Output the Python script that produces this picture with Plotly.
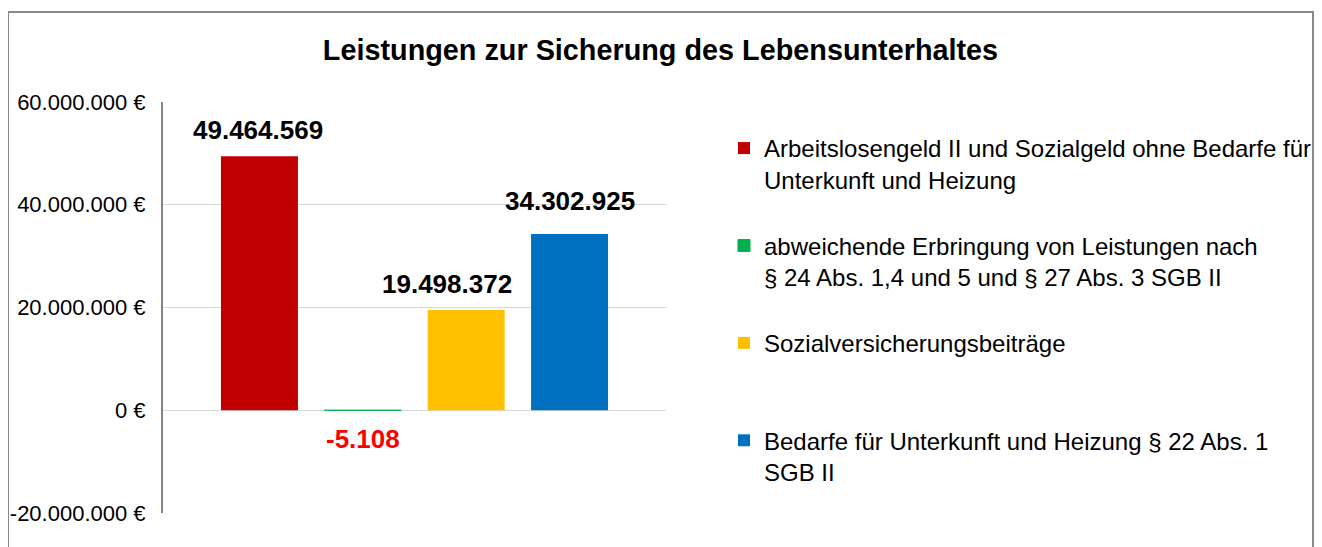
import plotly.graph_objects as go

# ---------------- data ----------------
category = ["Leistungen"]
series_names = [
    "Arbeitslosengeld II und Sozialgeld ohne Bedarfe für<br>Unterkunft und Heizung",
    "abweichende Erbringung von Leistungen nach<br>§ 24 Abs. 1,4 und 5 und § 27 Abs. 3 SGB II",
    "Sozialversicherungsbeiträge<br>\u00a0",
    "Bedarfe für Unterkunft und Heizung § 22 Abs. 1<br>SGB II",
]
values = [49464569, -5108, 19498372, 34302925]
tick_values = [-20000000, 0, 20000000, 40000000, 60000000]
title_text = "Leistungen zur Sicherung des Lebensunterhaltes"

# ---------------- style ----------------
colors = ["#C00000", "#00B050", "#FFC000", "#0070C0"]
label_colors = ["#000000", "#FF0000", "#000000", "#000000"]
label_dx = [-1, 0, -19, 0]      # pixel nudges of the data labels
label_dy = [26, -29, 26, 33]
FONT = "Liberation Sans, Arial, sans-serif"

W, H = 1322, 547
OFF = 8  # page body margin of the browser; layout is given in screen pixels


def f(v):
    """screen pixel -> figure pixel"""
    return v - OFF


PLOT_L, PLOT_R, PLOT_T, PLOT_B = 163, 666, 102, 513.5   # screen pixels
M = dict(l=f(PLOT_L), r=W - f(PLOT_R), t=f(PLOT_T), b=H - f(PLOT_B), pad=0)
PW = W - M["l"] - M["r"]
PH = H - M["t"] - M["b"]
BARGAP = 0.178
BARGROUPGAP = 0.255


def px_x(x):
    return (f(x) - M["l"]) / PW


def px_y(y):
    return (H - M["b"] - f(y)) / PH


def fmt(v):
    return f"{v:,}".replace(",", ".")


def fmt_tick(v):
    return fmt(int(v)) + " €"


fig = go.Figure()
for i, (name, v) in enumerate(zip(series_names, values)):
    fig.add_trace(go.Bar(
        x=category, y=[v], name=name,
        marker=dict(color=colors[i],
                    line=dict(color=colors[i], width=1 if abs(v) < 1e6 else 0)),
        legendgroup=f"g{i}",
        hovertemplate=fmt(v) + "<extra></extra>",
    ))

# data labels, anchored on each bar of the group
n = len(values)
group_w = 1 - BARGAP
slot = group_w / n
for i, v in enumerate(values):
    xc = -group_w / 2 + (i + 0.5) * slot
    fig.add_annotation(
        x=xc, y=v, xref="x", yref="y",
        text="<b>" + fmt(v) + "</b>", showarrow=False,
        xanchor="center", yanchor="middle",
        xshift=label_dx[i], yshift=label_dy[i],
        font=dict(family=FONT, size=26, color=label_colors[i]),
    )

# outer chart border
fig.add_shape(type="rect", xref="paper", yref="paper",
              x0=px_x(8), x1=px_x(1313), y0=px_y(580), y1=px_y(12),
              line=dict(color="#898989", width=2), fillcolor="rgba(0,0,0,0)",
              layer="below")

fig.update_layout(
    width=W, height=H,
    margin=M,
    paper_bgcolor="white", plot_bgcolor="white",
    separators=",.",
    barmode="group", bargap=BARGAP, bargroupgap=BARGROUPGAP,
    font=dict(family=FONT, color="#000000"),
    title=dict(text="<b>" + title_text + "</b>", x=f(660.5) / W, xref="container",
               xanchor="center", y=1 - f(50) / H, yref="container", yanchor="middle",
               font=dict(family=FONT, size=28.8, color="#000000")),
    showlegend=True,
    legend=dict(x=f(724) / W, xref="container", xanchor="left",
                y=px_y(126), yref="paper", yanchor="top",
                font=dict(family=FONT, size=24, color="#000000"),
                valign="top", traceorder="grouped", tracegroupgap=32,
                bgcolor="rgba(0,0,0,0)", borderwidth=0),
    xaxis=dict(showticklabels=False, showgrid=False, zeroline=False,
               showline=False, range=[-0.5, 0.5], fixedrange=True,
               automargin=False),
    yaxis=dict(range=[tick_values[0], tick_values[-1]],
               tickvals=tick_values, ticktext=[fmt_tick(v) for v in tick_values],
               showgrid=True, gridcolor="#D9D9D9", gridwidth=1,
               zeroline=True, zerolinecolor="#D9D9D9", zerolinewidth=1,
               showline=True, linecolor="#868686", linewidth=2,
               ticks="", ticklabelstandoff=11, automargin=False,
               tickfont=dict(family=FONT, size=22, color="#000000")),
)

fig.write_html("out.html")
